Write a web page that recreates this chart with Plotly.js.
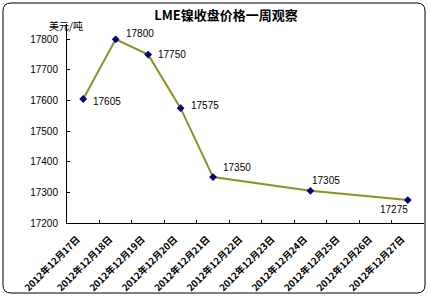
<!DOCTYPE html>
<html><head><meta charset="utf-8">
<script src="https://cdn.plot.ly/plotly-3.0.1.min.js"></script>
<style>html,body{margin:0;padding:0;background:#fff}#chart{width:428px;height:297px}</style>
</head><body><div id="chart"></div>
<script>
var allDates = ["2012年12月17日","2012年12月18日","2012年12月19日","2012年12月20日","2012年12月21日","2012年12月22日","2012年12月23日","2012年12月24日","2012年12月25日","2012年12月26日","2012年12月27日"];
var dates = ["2012年12月17日","2012年12月18日","2012年12月19日","2012年12月20日","2012年12月21日","2012年12月24日","2012年12月27日"];
var prices = [17605, 17800, 17750, 17575, 17350, 17305, 17275];
var yTicks = [17200, 17300, 17400, 17500, 17600, 17700, 17800];

var labelShiftX = [24, 24, 24, 24, 24, 16, -14];
var labelShiftY = [-2, 6, 0, 3, 10, 10, -9];

var annotations = dates.map(function(d, i){
  return {x: d, y: prices[i], xref:'x', yref:'y', text: String(prices[i]), showarrow:false,
    xshift: labelShiftX[i], yshift: labelShiftY[i],
    font:{family:'Liberation Sans, Arial', size:10, color:'#000'}};
});
annotations.push({text:'美元/吨', xref:'paper', yref:'paper', x:(47-67)/357, y:(223-16)/199,
  showarrow:false, font:{family:'Noto Sans CJK SC', size:10, color:'#000'}});

var trace = {x: dates, y: prices, type:'scatter', mode:'lines+markers',
  line:{color:'#8f8f24', width:2},
  marker:{symbol:'diamond', size:6, color:'#000080'}};

var layout = {
  width:428, height:297,
  margin:{l:67, r:4, t:24, b:74},
  paper_bgcolor:'#fff', plot_bgcolor:'#fff',
  showlegend:false,
  title:{text:'LME镍收盘价格一周观察', font:{family:'Noto Sans CJK SC', size:13, color:'#000', weight:'bold'},
    x:226/428, xanchor:'center', y:1-15/297, yanchor:'middle', xref:'container', yref:'container'},
  xaxis:{type:'category', categoryorder:'array', categoryarray:allDates, tickvals:allDates,
    range:[-0.5, 10.5], tickson:'boundaries', ticks:'inside', ticklen:3, tickcolor:'#000',
    showline:true, linecolor:'#000', linewidth:1, showgrid:false, zeroline:false,
    tickangle:-45, ticklabelstandoff:6, ticklabelshift:-6,
    tickfont:{family:'Noto Sans CJK SC', size:9.5, color:'#000', weight:'bold'}},
  yaxis:{range:[17200, 17850], tickvals:yTicks, ticktext:yTicks.map(String), ticks:'inside', ticklen:3, tickcolor:'#000',
    showline:true, linecolor:'#000', linewidth:1, showgrid:false, zeroline:false,
    ticklabelstandoff:6,
    tickfont:{family:'Liberation Sans, Arial', size:10, color:'#000'}},
  annotations: annotations,
  shapes:[{type:'path', xref:'paper', yref:'paper', xsizemode:'pixel', ysizemode:'pixel',
    xanchor:-67/357, yanchor:223/199,
    path:'M 11,-3 L 417,-3 Q 425,-3 425,-11 L 425,-285 Q 425,-293 417,-293 L 11,-293 Q 3,-293 3,-285 L 3,-11 Q 3,-3 11,-3 Z',
    line:{color:'#000', width:1}, layer:'below'}]
};
Plotly.newPlot('chart', [trace], layout, {displayModeBar:false, staticPlot:true});
</script></body></html>
